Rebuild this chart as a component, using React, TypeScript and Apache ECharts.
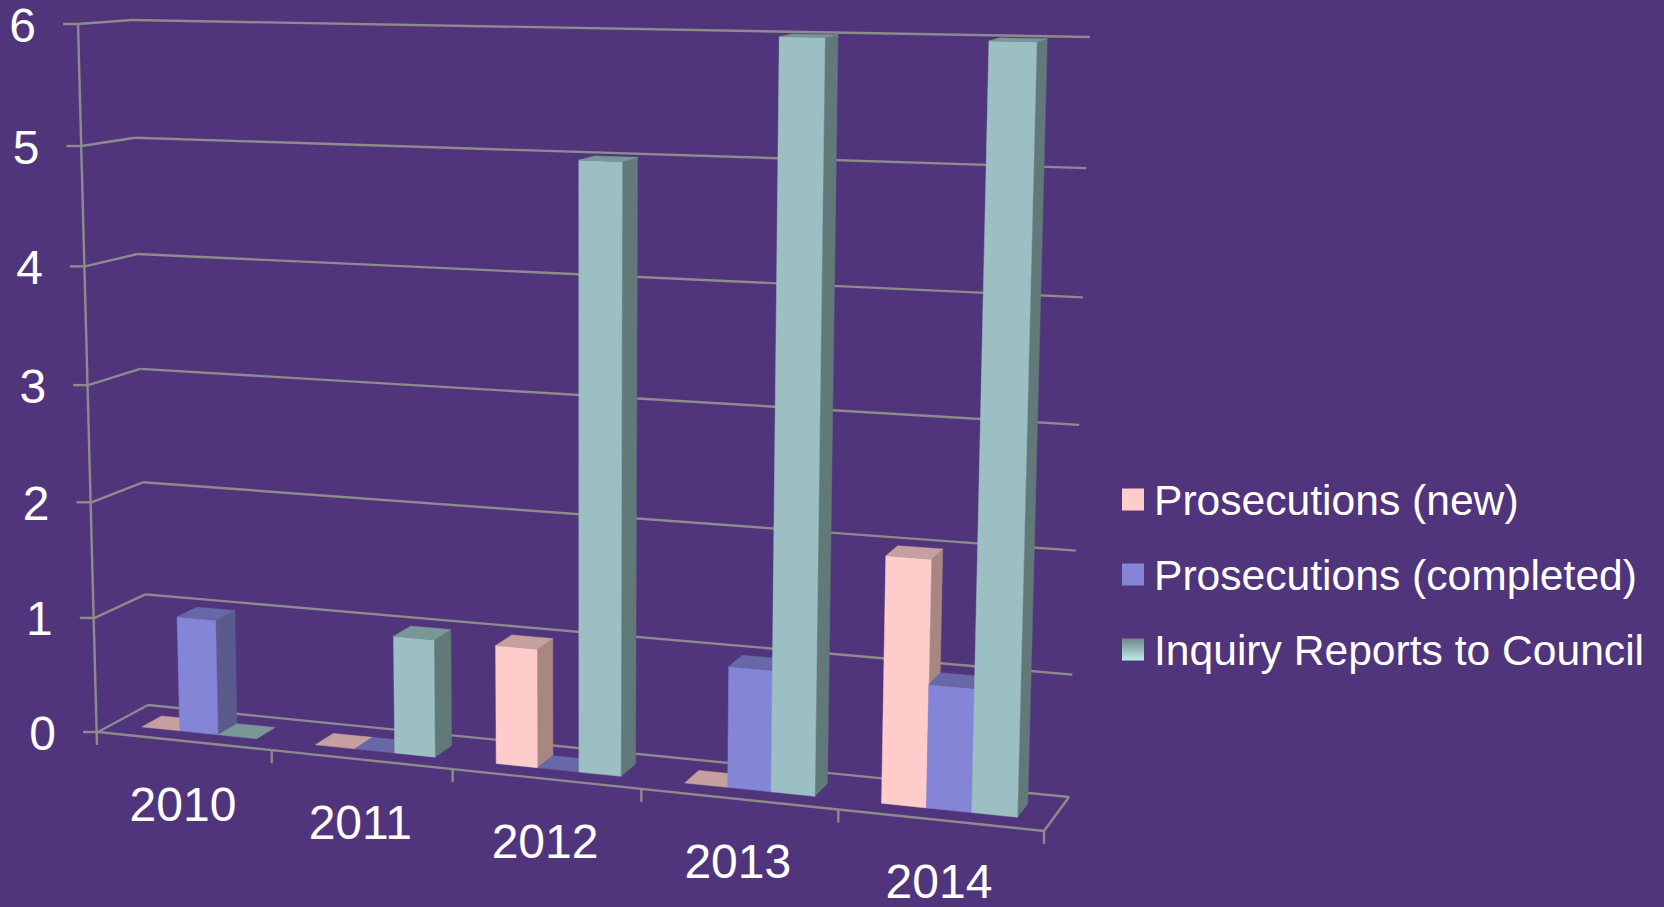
import React, { useEffect, useRef } from "react";
import * as echarts from "echarts";

const categories = ["2010", "2011", "2012", "2013", "2014"];
const valueTicks = [0, 1, 2, 3, 4, 5, 6];
const seriesNames = ["Prosecutions (new)", "Prosecutions (completed)", "Inquiry Reports to Council"];
const prosecutionsNew = [0, 0, 1, 0, 2];
const prosecutionsCompleted = [1, 0, 0, 1, 1];
const inquiryReports = [0, 1, 5, 6, 6];

const BG = "#50357D";
const LINE = "#8C8C8C";
const FONT = '"Liberation Sans", Arial, sans-serif';

type Pt = [number, number];
// corners: u=0,v=0 / u=1,v=0 / u=1,v=1 / u=0,v=1 of a wall
function homography(p0: Pt, p1: Pt, p2: Pt, p3: Pt) {
  const dx1 = p1[0] - p2[0], dx2 = p3[0] - p2[0], sx = p0[0] - p1[0] + p2[0] - p3[0];
  const dy1 = p1[1] - p2[1], dy2 = p3[1] - p2[1], sy = p0[1] - p1[1] + p2[1] - p3[1];
  const den = dx1 * dy2 - dx2 * dy1;
  const g = (sx * dy2 - dx2 * sy) / den;
  const h = (dx1 * sy - sx * dy1) / den;
  const a = p1[0] - p0[0] + g * p1[0], b = p3[0] - p0[0] + h * p3[0], c = p0[0];
  const d = p1[1] - p0[1] + g * p1[1], e = p3[1] - p0[1] + h * p3[1], f = p0[1];
  return (u: number, v: number): Pt => {
    const w = g * u + h * v + 1;
    return [(a * u + b * v + c) / w, (d * u + e * v + f) / w];
  };
}
const frontWall = homography([98, 732], [1044, 831], [1065, 45], [78, 24]);
const backWall = homography([148, 705], [1069, 797], [1090, 37], [132, 20]);
function project(u: number, v: number, depth: number): Pt {
  const f = frontWall(u, v), b = backWall(u, v);
  return [f[0] + (b[0] - f[0]) * depth, f[1] + (b[1] - f[1]) * depth];
}

const BAR_START = 0.17;
const BAR_WIDTH = 0.222;
const DEPTH_FRONT = 0.3;
const DEPTH_BACK = 0.7;

function toUnit(params: any, api: any, cat: number, val: number) {
  const cs = params.coordSys;
  const c = api.coord([cat, val]);
  return { u: (c[0] - cs.x) / cs.width, v: (cs.y + cs.height - c[1]) / cs.height, band: api.size([1, 0])[0] / cs.width };
}

function line(a: Pt, b: Pt) {
  return {
    type: "line",
    shape: { x1: a[0], y1: a[1], x2: b[0], y2: b[1] },
    style: { stroke: LINE, lineWidth: 2.4 },
  };
}
function label(text: string, x: number, y: number, align: string) {
  return {
    type: "text",
    style: { text, x, y, fill: "#FFFFFF", fontSize: 48, fontFamily: FONT, align, verticalAlign: "middle" },
  };
}
function quad(points: Pt[], fill: string) {
  return { type: "polygon", shape: { points }, style: { fill, stroke: fill, lineWidth: 0.5 } };
}

function renderValueFrame(params: any, api: any) {
  const { v } = toUnit(params, api, 0, api.value(1));
  const a = project(0, v, 0), b = project(0, v, 1), c = project(1, v, 1);
  const children: any[] = [
    line([a[0] - 15, a[1]], a),
    line(a, b),
    line(b, c),
    label(String(api.value(1)), a[0] - 42, a[1] + 1, "right"),
  ];
  if (api.value(1) === 0) {
    const top = project(0, 1, 0);
    children.push(line(top, [a[0] - 1, a[1] + 13]));
  }
  return { type: "group", children };
}

function renderCategoryFrame(params: any, api: any) {
  const i = api.value(0);
  const { u, band } = toUnit(params, api, i, 0);
  const l = project(u - band / 2, 0, 0);
  const r = project(u + band / 2, 0, 0);
  const m = project(u, 0, 0);
  const children: any[] = [
    line(l, r),
    line(r, [r[0], r[1] + 13]),
    label(categories[i], m[0] - 1, m[1] + 64 - i * 0.6, "center"),
  ];
  if (i === categories.length - 1) children.push(line(r, project(1, 0, 1)));
  return { type: "group", children };
}

function barRenderer(slot: number, front: string, side: string, top: string) {
  return (params: any, api: any) => {
    const cat = api.value(0);
    const { u, v, band } = toUnit(params, api, cat, api.value(1));
    const u0 = u - band / 2 + band * (BAR_START + BAR_WIDTH * slot);
    const u1 = u0 + band * BAR_WIDTH;
    const fb0 = project(u0, 0, DEPTH_FRONT), fb1 = project(u1, 0, DEPTH_FRONT);
    const bb1 = project(u1, 0, DEPTH_BACK);
    const ft0 = project(u0, v, DEPTH_FRONT), ft1 = project(u1, v, DEPTH_FRONT);
    const bt0 = project(u0, v, DEPTH_BACK), bt1 = project(u1, v, DEPTH_BACK);
    const children: any[] = [];
    if (v > 0) {
      children.push(quad([fb1, bb1, bt1, ft1], side));
      children.push(quad([fb0, fb1, ft1, ft0], front));
    }
    children.push(quad([ft0, ft1, bt1, bt0], top));
    return { type: "group", children };
  };
}

export default function App() {
  const ref = useRef<HTMLDivElement>(null);
  useEffect(() => {
    document.body.style.margin = "0";
    const chart = echarts.init(ref.current!, undefined, { renderer: "svg" });
    const colors = [
      { front: "#FFCCCC", side: "#A88682", top: "#C6A09F" },
      { front: "#8585D8", side: "#5A5A8C", top: "#6868A8" },
      { front: "#9CBFC4", side: "#62797A", top: "#7A9798" },
    ];
    const barData = [prosecutionsNew, prosecutionsCompleted, inquiryReports];
    chart.setOption({
      animation: false,
      backgroundColor: BG,
      grid: { left: 98, right: 620, top: 24, bottom: 175 },
      xAxis: { type: "category", data: categories, show: false },
      yAxis: { type: "value", min: 0, max: 6, interval: 1, show: false },
      legend: {
        left: 1122,
        top: 478,
        padding: 0,
        orient: "vertical",
        itemWidth: 22,
        itemHeight: 22,
        itemGap: 32,
        icon: "rect",
        selectedMode: false,
        textStyle: { color: "#FFFFFF", fontSize: 42.6, fontFamily: FONT, padding: [0, 0, 0, 5] },
        data: [
          { name: seriesNames[0], itemStyle: { color: "#FFCCCC" } },
          { name: seriesNames[1], itemStyle: { color: "#8585D8" } },
          {
            name: seriesNames[2],
            itemStyle: {
              color: new echarts.graphic.LinearGradient(0, 0, 0, 1, [
                { offset: 0, color: "#6E8886" },
                { offset: 1, color: "#BEEAEA" },
              ]),
            },
          },
        ],
      },
      series: [
        {
          type: "custom",
          name: "value frame",
          silent: true,
          clip: false,
          renderItem: renderValueFrame,
          data: valueTicks.map((t) => [0, t]),
        },
        {
          type: "custom",
          name: "category frame",
          silent: true,
          clip: false,
          renderItem: renderCategoryFrame,
          data: categories.map((_, i) => [i, 0]),
        },
        ...barData.map((values, s) => ({
          type: "custom",
          name: seriesNames[s],
          silent: true,
          clip: false,
          itemStyle: { color: colors[s].front },
          renderItem: barRenderer(s, colors[s].front, colors[s].side, colors[s].top),
          data: values.map((val, i) => [i, val]),
        })),
      ],
    } as any);
    return () => chart.dispose();
  }, []);
  return <div ref={ref} style={{ position: "fixed", left: 0, top: 0, width: 1664, height: 907 }} />;
}
